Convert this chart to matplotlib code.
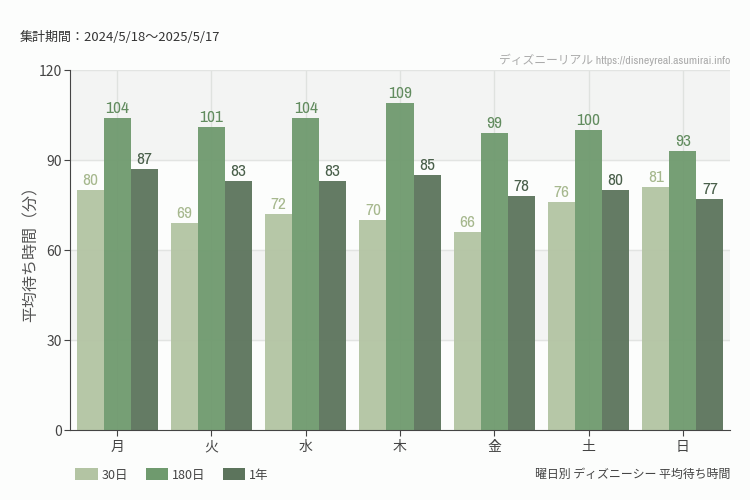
import numpy as np
import matplotlib
matplotlib.use("Agg")
import matplotlib.pyplot as plt
from matplotlib.patches import Patch
from matplotlib import font_manager

plt.rcParams['font.family'] = ['Noto Sans CJK JP', 'DejaVu Sans']

# Data
days = ["月", "火", "水", "木", "金", "土", "日"]
wait_30d = [80, 69, 72, 70, 66, 76, 81]
wait_180d = [104, 101, 104, 109, 99, 100, 93]
wait_1y = [87, 83, 83, 85, 78, 80, 77]
series_names = ["30日", "180日", "1年"]
yticks = [0, 30, 60, 90, 120]

colors = ["#b3c4a3", "#6f9a6e", "#5c745c"]
label_colors = ["#a6b88e", "#628c5f", "#4a604b"]
bg = "#fcfdfc"

# look for a narrow font for the value labels
narrow = [f.name for f in font_manager.fontManager.ttflist
          if "Narrow" in f.name or "Condensed" in f.name]
num_family = [narrow[0], "DejaVu Sans"] if narrow else ["DejaVu Sans"]
num_stretch = "normal" if narrow else "condensed"

fig = plt.figure(figsize=(7.5, 5), dpi=100, facecolor=bg)
ax = fig.add_axes([0.0933, 0.14, 0.88, 0.72])
ax.set_facecolor(bg)

# Background bands
for lo, hi in [(30, 60), (90, 120)]:
    ax.axhspan(lo, hi, color="#f3f4f3", zorder=0)

x = np.arange(len(days))
w = 0.287
all_series = [wait_30d, wait_180d, wait_1y]

for gx in x:
    ax.axvline(gx, color="#dfe2df", lw=1, zorder=1)
for gy in yticks[1:]:
    ax.axhline(gy, color="#e2e4e2", lw=1, zorder=1)

for i, vals in enumerate(all_series):
    pos = x + (i - 1) * w
    ax.bar(pos, vals, width=w, color=colors[i], alpha=0.95, zorder=2)
    for px, v in zip(pos, vals):
        ax.text(px, v + 0.8, str(v), ha="center", va="bottom", fontsize=12.5,
                color=label_colors[i], family=num_family, fontstretch=num_stretch)

ax.set_xlim(-0.5, len(days) - 0.5)
ax.set_ylim(0, 120)
ax.set_yticks(yticks)
ax.set_xticks(x)
ax.set_xticklabels(days, fontsize=10, color="#444444")
ax.tick_params(axis="y", labelsize=10, colors="#444444", length=4, pad=2)
ax.tick_params(axis="x", length=4, colors="#444444")

for s in ["top", "right"]:
    ax.spines[s].set_visible(False)
for s in ["left", "bottom"]:
    ax.spines[s].set_color("#444444")

ax.set_ylabel("平均待ち時間（分）", fontsize=11.5, color="#555555", labelpad=-1)

fig.text(20 / 750, 1 - 37 / 500, "集計期間：2024/5/18〜2025/5/17", fontsize=9.4,
         color="#333333", va="center", ha="left")
fig.text(730 / 750, 1 - 60 / 500, "ディズニーリアル https://disneyreal.asumirai.info",
         fontsize=8.5, color="#aaaaaa", va="center", ha="right",
         family=num_family[:1] + ["Noto Sans CJK JP"])
fig.text(730 / 750, 1 - 474 / 500, "曜日別 ディズニーシー 平均待ち時間", fontsize=8.6,
         color="#444444", va="center", ha="right")

handles = [Patch(facecolor=c, edgecolor="none") for c in colors]
fig.legend(handles, series_names, loc="center left", bbox_to_anchor=(64 / 750, 1 - 475 / 500),
           ncol=3, frameon=False, fontsize=9, handlelength=1.8, handleheight=1.1,
           columnspacing=1.4, handletextpad=0.3, labelcolor="#444444")

fig.savefig("out.png", dpi=100, facecolor=bg)
